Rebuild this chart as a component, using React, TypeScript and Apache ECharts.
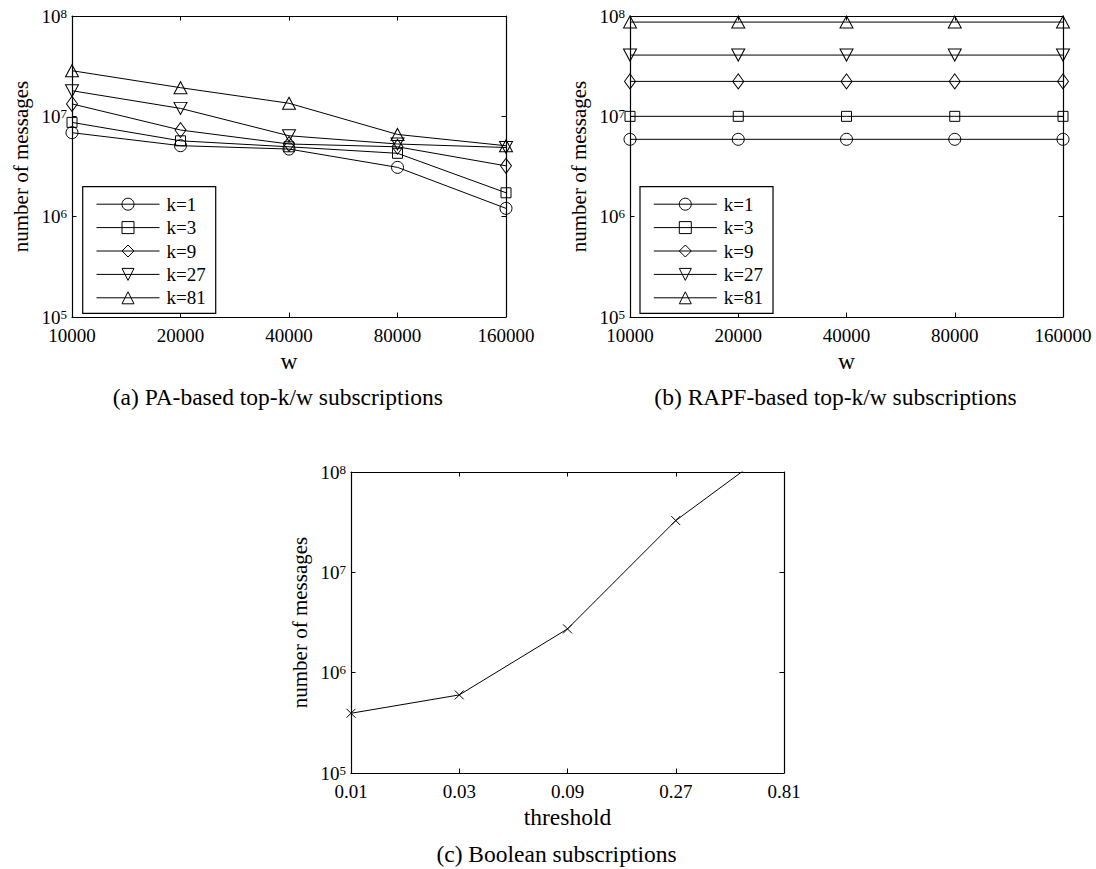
import React, { useEffect, useRef } from 'react';
import * as echarts from 'echarts';

// ---------- data ----------
const wLabels = ['10000', '20000', '40000', '80000', '160000'];
const kNames = ['k=1', 'k=3', 'k=9', 'k=27', 'k=81'];

// (a) PA-based top-k/w subscriptions
const paK1 = [6.87e6, 5.1e6, 4.72e6, 3.1e6, 1.21e6];
const paK3 = [8.7e6, 5.7e6, 4.97e6, 4.28e6, 1.73e6];
const paK9 = [1.33e7, 7.3e6, 5.3e6, 4.97e6, 3.21e6];
const paK27 = [1.8e7, 1.2e7, 6.4e6, 5.3e6, 4.89e6];
const paK81 = [2.85e7, 1.93e7, 1.35e7, 6.6e6, 5.09e6];

// (b) RAPF-based top-k/w subscriptions
const rapfK1 = [5.9e6, 5.9e6, 5.9e6, 5.9e6, 5.9e6];
const rapfK3 = [1.0e7, 1.0e7, 1.0e7, 1.0e7, 1.0e7];
const rapfK9 = [2.23e7, 2.23e7, 2.23e7, 2.23e7, 2.23e7];
const rapfK27 = [4.08e7, 4.08e7, 4.08e7, 4.08e7, 4.08e7];
const rapfK81 = [8.7e7, 8.7e7, 8.7e7, 8.7e7, 8.7e7];

// (c) Boolean subscriptions
const thresholdLabels = ['0.01', '0.03', '0.09', '0.27', '0.81'];
const booleanMessages = [3.94e5, 6.0e5, 2.73e6, 3.28e7, 2.05e8];

const yMin = 1e5;
const yMax = 1e8;

const captions = [
  '(a) PA-based top-k/w subscriptions',
  '(b) RAPF-based top-k/w subscriptions',
  '(c) Boolean subscriptions',
];

// ---------- style ----------
const FONT = '"Liberation Serif", "Times New Roman", Times, serif';
const BLACK = '#000';

const symbols = [
  'circle',
  'rect',
  'diamond',
  'path://M0,0L10,0L5,9Z',
  'path://M5,0L10,9L0,9Z',
];
const symbolSizes: any[] = [12, 10, [11, 15], [13, 12], [13, 12]];

const grids = [
  { left: 72, top: 16, width: 434, height: 301 },
  { left: 630, top: 16, width: 433, height: 301 },
  { left: 351, top: 472, width: 433, height: 301 },
];

function makeXAxes(gridIndex: number, data: string[], name: string) {
  const common = {
    type: 'category',
    gridIndex,
    data,
    boundaryGap: false,
    axisLine: { lineStyle: { color: BLACK, width: 1.2 } },
    axisTick: { inside: true, length: 4.5, lineStyle: { color: BLACK, width: 1 } },
    splitLine: { show: false },
  };
  return [
    {
      ...common,
      position: 'bottom',
      axisLabel: { color: BLACK, fontFamily: FONT, fontSize: 19, margin: 9 },
      name,
      nameLocation: 'middle',
      nameGap: 32,
      nameTextStyle: { color: BLACK, fontFamily: FONT, fontSize: 23.5 },
    },
    {
      ...common,
      position: 'top',
      axisLabel: { show: false },
    },
  ];
}

function makeYAxes(gridIndex: number) {
  const common = {
    type: 'log',
    logBase: 10,
    gridIndex,
    min: yMin,
    max: yMax,
    axisLine: { show: true, lineStyle: { color: BLACK, width: 1.2 } },
    axisTick: { show: true, inside: true, length: 4.5, lineStyle: { color: BLACK, width: 1 } },
    splitLine: { show: false },
    minorTick: { show: false },
  };
  return [
    {
      ...common,
      position: 'left',
      axisLabel: {
        margin: 5,
        formatter: (v: number) => `{b|10}{s|${Math.round(Math.log10(v))}}`,
        rich: {
          b: { fontFamily: FONT, fontSize: 19, color: BLACK, lineHeight: 19 },
          s: { fontFamily: FONT, fontSize: 13, color: BLACK, lineHeight: 8, verticalAlign: 'top' },
        },
      },
      name: 'number of messages',
      nameLocation: 'middle',
      nameGap: 41,
      nameTextStyle: { color: BLACK, fontFamily: FONT, fontSize: 21 },
    },
    {
      ...common,
      position: 'right',
      axisLabel: { show: false },
    },
  ];
}

function kSeries(values: number[][], axisIndex: number) {
  return kNames.map((n, i) => ({
    type: 'line',
    name: n,
    xAxisIndex: axisIndex,
    yAxisIndex: axisIndex,
    data: values[i],
    symbol: symbols[i],
    symbolSize: symbolSizes[i],
    showAllSymbol: true,
    lineStyle: { color: BLACK, width: 1 },
    itemStyle: { color: 'transparent', borderColor: BLACK, borderWidth: 1 },
    emphasis: { disabled: true },
    clip: true,
  }));
}

function makeLegend(left: number) {
  return {
    data: kNames,
    orient: 'vertical',
    left,
    top: 186.7,
    itemWidth: 63,
    itemHeight: 15,
    itemGap: 4.4,
    padding: [8, 10, 6, 13.3],
    borderColor: BLACK,
    borderWidth: 1.2,
    borderRadius: 0,
    backgroundColor: '#fff',
    selectedMode: false,
    textStyle: { fontFamily: FONT, fontSize: 19, color: BLACK, lineHeight: 15, padding: [0, 0, 0, 2] },
    itemStyle: { color: 'transparent', borderColor: BLACK, borderWidth: 1 },
    lineStyle: { color: BLACK, width: 1 },
  };
}

export default function App() {
  const ref = useRef<HTMLDivElement>(null);

  useEffect(() => {
    document.body.style.margin = '0';
    if (!ref.current) return;
    const chart = echarts.init(ref.current, null, { renderer: 'svg' });

    const option: any = {
      animation: false,
      backgroundColor: '#fff',
      grid: grids.map((g) => ({ ...g, containLabel: false })),
      xAxis: [
        ...makeXAxes(0, wLabels, 'w'),
        ...makeXAxes(1, wLabels, 'w'),
        ...makeXAxes(2, thresholdLabels, 'threshold'),
      ],
      yAxis: [...makeYAxes(0), ...makeYAxes(1), ...makeYAxes(2)],
      legend: [makeLegend(82.7), makeLegend(640)],
      series: [
        ...kSeries([paK1, paK3, paK9, paK27, paK81], 0),
        ...kSeries([rapfK1, rapfK3, rapfK9, rapfK27, rapfK81], 2),
        {
          type: 'line',
          name: 'boolean',
          xAxisIndex: 4,
          yAxisIndex: 4,
          data: booleanMessages,
          symbol: 'path://M0,0L10,10M10,0L0,10',
          symbolSize: 9,
          lineStyle: { color: BLACK, width: 1 },
          itemStyle: { color: 'transparent', borderColor: BLACK, borderWidth: 1 },
          emphasis: { disabled: true },
          clip: true,
        },
      ],
      graphic: [
        { type: 'text', x: 277.8, y: 397, style: { text: captions[0], fontFamily: FONT, fontSize: 23.5, fill: BLACK, align: 'center', verticalAlign: 'middle' } },
        { type: 'text', x: 835.5, y: 397, style: { text: captions[1], fontFamily: FONT, fontSize: 23.5, fill: BLACK, align: 'center', verticalAlign: 'middle' } },
        { type: 'text', x: 556.5, y: 854, style: { text: captions[2], fontFamily: FONT, fontSize: 23.5, fill: BLACK, align: 'center', verticalAlign: 'middle' } },
      ],
    };

    chart.setOption(option);
    return () => chart.dispose();
  }, []);

  return <div ref={ref} style={{ width: 1096, height: 869 }} />;
}
